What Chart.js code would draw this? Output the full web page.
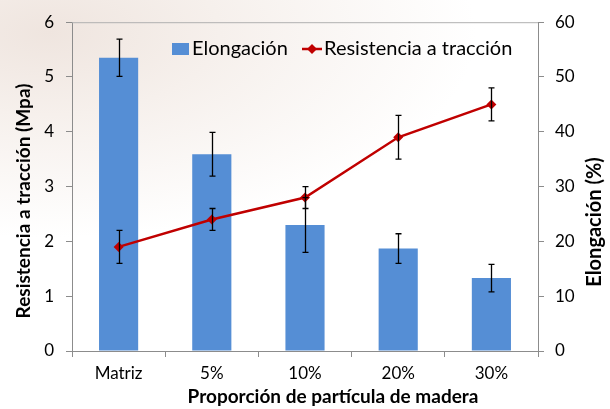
<!DOCTYPE html>
<html>
<head>
<meta charset="utf-8">
<script src="https://cdn.jsdelivr.net/npm/chart.js@4"></script>
<style>
  html, body { margin: 0; padding: 0; overflow: hidden; }
  body {
    width: 610px; height: 409px;
    background: radial-gradient(ellipse 70% 50% at 8% 8%, #efe5df 0%, #f6f0ec 40%, #ffffff 100%);
  }
  #wrap { position: relative; width: 610px; height: 409px; }
</style>
</head>
<body>
<div id="wrap"><canvas id="myChart" width="610" height="409"></canvas></div>
<script>
let categorias = ['Matriz', '5%', '10%', '20%', '30%'];
let elongacion = [53.5, 35.9, 23, 18.7, 13.3];
let elongacionErr = [3.4, 4, 5, 2.7, 2.5];
let resistencia = [1.9, 2.4, 2.8, 3.9, 4.5];
let resistenciaErr = [0.3, 0.2, 0.2, 0.4, 0.3];

let tituloX = 'Proporción de partícula de madera';
let tituloY = 'Resistencia a tracción (Mpa)';
let tituloY2 = 'Elongación (%)';

let fuente = 'Lato, "Open Sans", sans-serif';
let gris = '#8c8c8c';

// barras de error, leyenda y titulos de ejes (movidos como en el original)
let extras = {
    id: 'extras',
    afterDatasetsDraw(chart) {
        let c = chart.ctx;
        let x = chart.scales.x;
        let area = chart.chartArea;

        // borde superior del area
        c.save();
        c.strokeStyle = '#b0b0b0';
        c.lineWidth = 1;
        c.beginPath();
        c.moveTo(area.left, area.top + 0.5);
        c.lineTo(area.right, area.top + 0.5);
        c.stroke();

        c.strokeStyle = '#000';
        c.lineWidth = 1.3;
        let barras = (valores, errores, escala) => {
            valores.forEach((v, i) => {
                let px = Math.round(x.getPixelForValue(i)) + 0.5;
                let y1 = escala.getPixelForValue(v + errores[i]);
                let y2 = escala.getPixelForValue(v - errores[i]);
                c.beginPath();
                c.moveTo(px, y1); c.lineTo(px, y2);
                c.moveTo(px - 3, y1); c.lineTo(px + 3, y1);
                c.moveTo(px - 3, y2); c.lineTo(px + 3, y2);
                c.stroke();
            });
        };
        barras(elongacion, elongacionErr, chart.scales.y2);
        barras(resistencia, resistenciaErr, chart.scales.y);

        // leyenda
        let ds = chart.data.datasets;
        c.font = '20px ' + fuente;
        c.textBaseline = 'middle';
        c.fillStyle = ds[1].backgroundColor;
        c.fillRect(172, 43, 17, 12);
        c.fillStyle = '#000';
        c.fillText(ds[1].label, 192, 49);

        c.strokeStyle = ds[0].borderColor;
        c.lineWidth = 2.5;
        c.beginPath();
        c.moveTo(302, 49); c.lineTo(322, 49);
        c.stroke();
        c.fillStyle = ds[0].borderColor;
        c.beginPath();
        c.moveTo(312, 44); c.lineTo(317, 49); c.lineTo(312, 54); c.lineTo(307, 49);
        c.closePath();
        c.fill();
        c.fillStyle = '#000';
        c.fillText(ds[0].label, 324, 49);

        // titulos
        c.textAlign = 'center';
        c.font = 'bold 19px ' + fuente;
        c.fillText(tituloX, 333, 397);

        c.save();
        c.translate(24, 201);
        c.rotate(-Math.PI / 2);
        c.fillText(tituloY, 0, 0);
        c.restore();

        c.translate(595, 222);
        c.rotate(-Math.PI / 2);
        c.font = 'bold 20px ' + fuente;
        c.fillText(tituloY2, 0, 0);
        c.restore();
    }
};

let ctx = document.getElementById('myChart').getContext('2d');

let myChart = new Chart(ctx, {
    data: {
        labels: categorias,
        datasets: [{
            type: 'line',
            label: 'Resistencia a tracción',
            data: resistencia,
            yAxisID: 'y',
            borderColor: '#c00000',
            backgroundColor: '#c00000',
            borderWidth: 2.5,
            pointStyle: 'rectRot',
            pointRadius: 5,
            pointBackgroundColor: '#c00000',
            pointBorderWidth: 0,
            tension: 0,
            order: 1
        }, {
            type: 'bar',
            label: 'Elongación',
            data: elongacion,
            yAxisID: 'y2',
            backgroundColor: '#558ed5',
            barPercentage: 0.42,
            categoryPercentage: 1,
            order: 2
        }]
    },
    plugins: [extras],
    options: {
        responsive: false,
        animation: false,
        devicePixelRatio: 1,
        layout: { padding: { top: 17, left: 0, right: 0, bottom: 0 } },
        plugins: {
            legend: { display: false },
            tooltip: { enabled: false }
        },
        scales: {
            x: {
                offset: true,
                afterFit: (s) => { s.height = 58; },
                grid: { display: true, drawOnChartArea: false, offset: true, tickLength: 6, color: gris },
                border: { color: gris },
                ticks: { color: '#000', padding: 6, maxRotation: 0, autoSkip: false, font: { family: fuente, size: 17 } },
                title: { display: false }
            },
            y: {
                position: 'left',
                min: 0, max: 6,
                afterFit: (s) => { s.width = 72; },
                grid: { display: true, drawOnChartArea: false, tickLength: 6, color: gris },
                border: { color: gris },
                ticks: { stepSize: 1, color: '#000', padding: 12, font: { family: fuente, size: 17 } },
                title: { display: false }
            },
            y2: {
                position: 'right',
                min: 0, max: 60,
                afterFit: (s) => { s.width = 72; },
                grid: { display: true, drawOnChartArea: false, tickLength: 6, color: gris },
                border: { color: gris },
                ticks: { stepSize: 10, color: '#000', padding: 11, font: { family: fuente, size: 17 } },
                title: { display: false }
            }
        }
    }
});
</script>
</body>
</html>
